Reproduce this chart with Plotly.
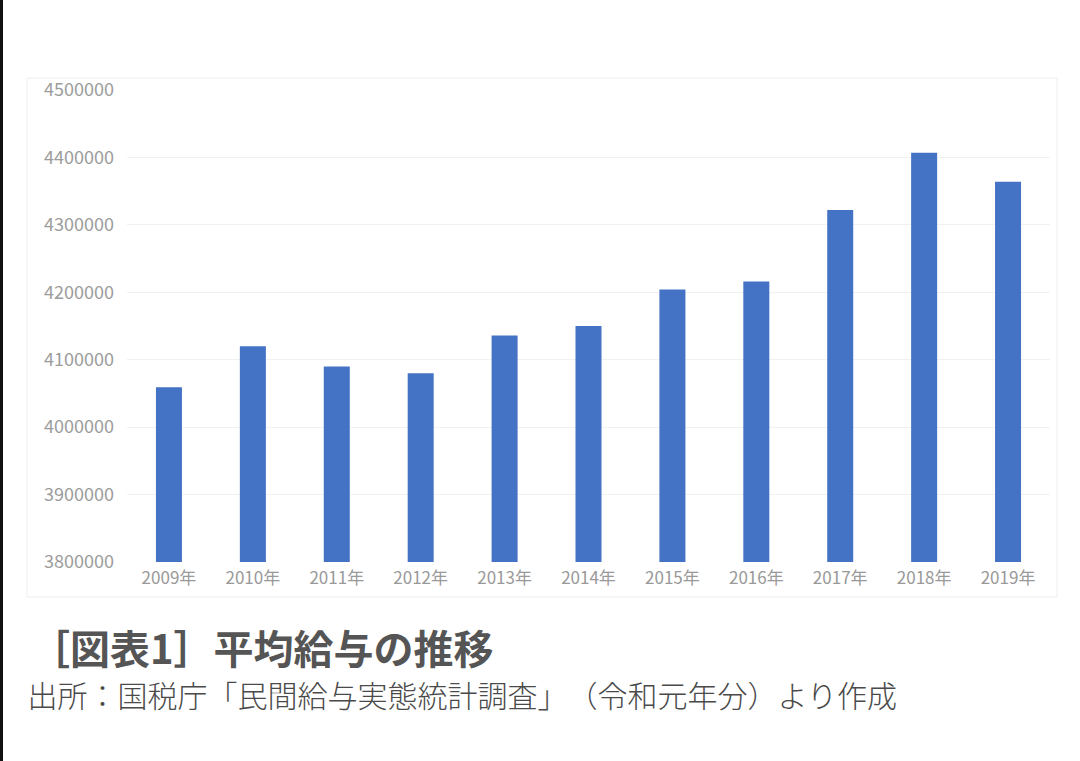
import plotly.graph_objects as go

# 平均給与の推移 (国税庁「民間給与実態統計調査」)
years = ['2009年', '2010年', '2011年', '2012年', '2013年', '2014年',
         '2015年', '2016年', '2017年', '2018年', '2019年']
salary = [4059000, 4120000, 4090000, 4080000, 4136000, 4150000,
          4204000, 4216000, 4322000, 4407000, 4364000]
y_ticks = [3800000, 3900000, 4000000, 4100000, 4200000, 4300000, 4400000, 4500000]

title_text = '［図表1］平均給与の推移'
source_text = '出所：国税庁「民間給与実態統計調査」（令和元年分）より作成'

FONT = 'Noto Sans CJK JP'

# plot area in pixels (1080x761 page)
L, R, T, B = 127, 30, 90, 199
W = 1080 - L - R
H = 761 - T - B


def px(x):
    return (x - L) / W


def py(y):
    return (761 - B - y) / H


fig = go.Figure(go.Bar(
    x=years, y=salary,
    marker=dict(color='#4472c4', line=dict(width=0)),
))

fig.update_layout(
    width=1080, height=761,
    margin=dict(l=L, r=R, t=T, b=B),
    paper_bgcolor='white', plot_bgcolor='white',
    bargap=0.69,
    showlegend=False,
    font=dict(family=FONT),
)
fig.update_xaxes(
    showgrid=False, showline=False, zeroline=False,
    tickfont=dict(size=17, color='#999999'),
    ticks='', ticklabelstandoff=4,
)
fig.update_yaxes(
    range=[3800000, 4500000], tickvals=y_ticks,
    ticktext=[str(v) for v in y_ticks],
    showgrid=True, gridcolor='#f1f1f1', gridwidth=1,
    zeroline=False, showline=False,
    tickfont=dict(size=18, color='#9c9c9c'),
    ticklabelstandoff=12,
)

# faint frame round the chart and the dark left border of the page
fig.add_shape(type='rect', xref='paper', yref='paper',
              x0=px(27), x1=px(1057), y0=py(597), y1=py(78),
              line=dict(color='#eeeeee', width=1), layer='below')
fig.add_shape(type='line', xref='paper', yref='paper',
              x0=px(1.5), x1=px(1.5), y0=py(761), y1=py(0),
              line=dict(color='#111111', width=3))

fig.add_annotation(text=title_text, xref='paper', yref='paper',
                   x=px(28), y=py(647), xanchor='left', yanchor='middle',
                   showarrow=False,
                   font=dict(family=FONT, size=40, color='#555555', weight='bold'))
fig.add_annotation(text=source_text, xref='paper', yref='paper',
                   x=px(33), y=py(694), xanchor='left', yanchor='middle',
                   showarrow=False,
                   font=dict(family=FONT, size=30, color='#4a4a4a', weight=300))

# page has a default 8px body margin; drop it so the figure sits at 0,0,
# and keep full-width punctuation at full width
fig.write_html(
    'out.html',
    config={'displayModeBar': False},
    post_script="document.body.style.margin='0';"
                "document.body.style.textSpacingTrim='space-all';",
)
